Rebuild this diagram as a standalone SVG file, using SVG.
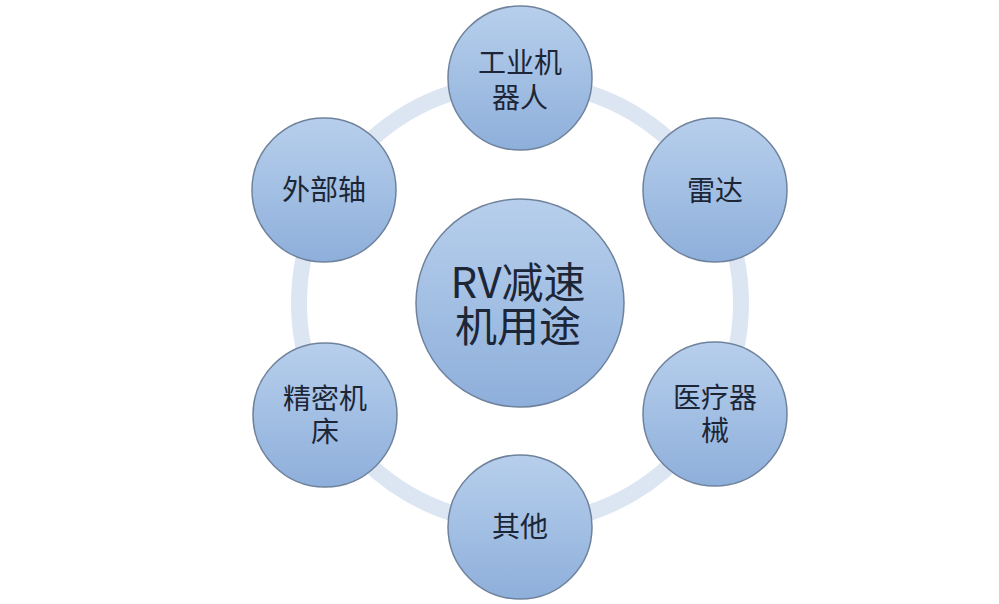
<svg xmlns="http://www.w3.org/2000/svg" width="999" height="604" viewBox="0 0 999 604">
<defs>
<linearGradient id="g" x1="0" y1="0" x2="0" y2="1">
<stop offset="0" stop-color="#b7cfec"/>
<stop offset="1" stop-color="#8eafdb"/>
</linearGradient>
<style>
.n{fill:url(#g);stroke:#6f829c;stroke-width:1.5}
.t{font-family:"Noto Sans CJK SC","Noto Sans",sans-serif;fill:#1c2636;text-anchor:middle;dominant-baseline:central}
.s{font-size:28px}
.b{font-size:42px}
</style>
</defs>
<rect width="999" height="604" fill="#ffffff"/>
<g id="connectors">
<circle cx="520" cy="303" r="221" fill="none" stroke="#dce6f3" stroke-width="16"/>
</g>
<g id="center">
<circle class="n" cx="520" cy="303" r="104"/>
<text class="t b"><tspan x="518" y="279">RV减速</tspan><tspan x="518" y="323">机用途</tspan></text>
</g>
<g id="n1">
<circle class="n" cx="520" cy="78" r="72"/>
<text class="t s"><tspan x="520" y="61">工业机</tspan><tspan x="520" y="96">器人</tspan></text>
</g>
<g id="n2">
<circle class="n" cx="715" cy="190" r="72"/>
<text class="t s" x="715" y="189">雷达</text>
</g>
<g id="n3">
<circle class="n" cx="715" cy="414" r="72"/>
<text class="t s"><tspan x="715" y="396">医疗器</tspan><tspan x="715" y="429">械</tspan></text>
</g>
<g id="n4">
<circle class="n" cx="520" cy="527" r="72"/>
<text class="t s" x="520" y="525">其他</text>
</g>
<g id="n5">
<circle class="n" cx="325" cy="415" r="72"/>
<text class="t s"><tspan x="325" y="397">精密机</tspan><tspan x="325" y="430">床</tspan></text>
</g>
<g id="n6">
<circle class="n" cx="324" cy="190" r="72"/>
<text class="t s" x="324" y="188">外部轴</text>
</g>
</svg>
